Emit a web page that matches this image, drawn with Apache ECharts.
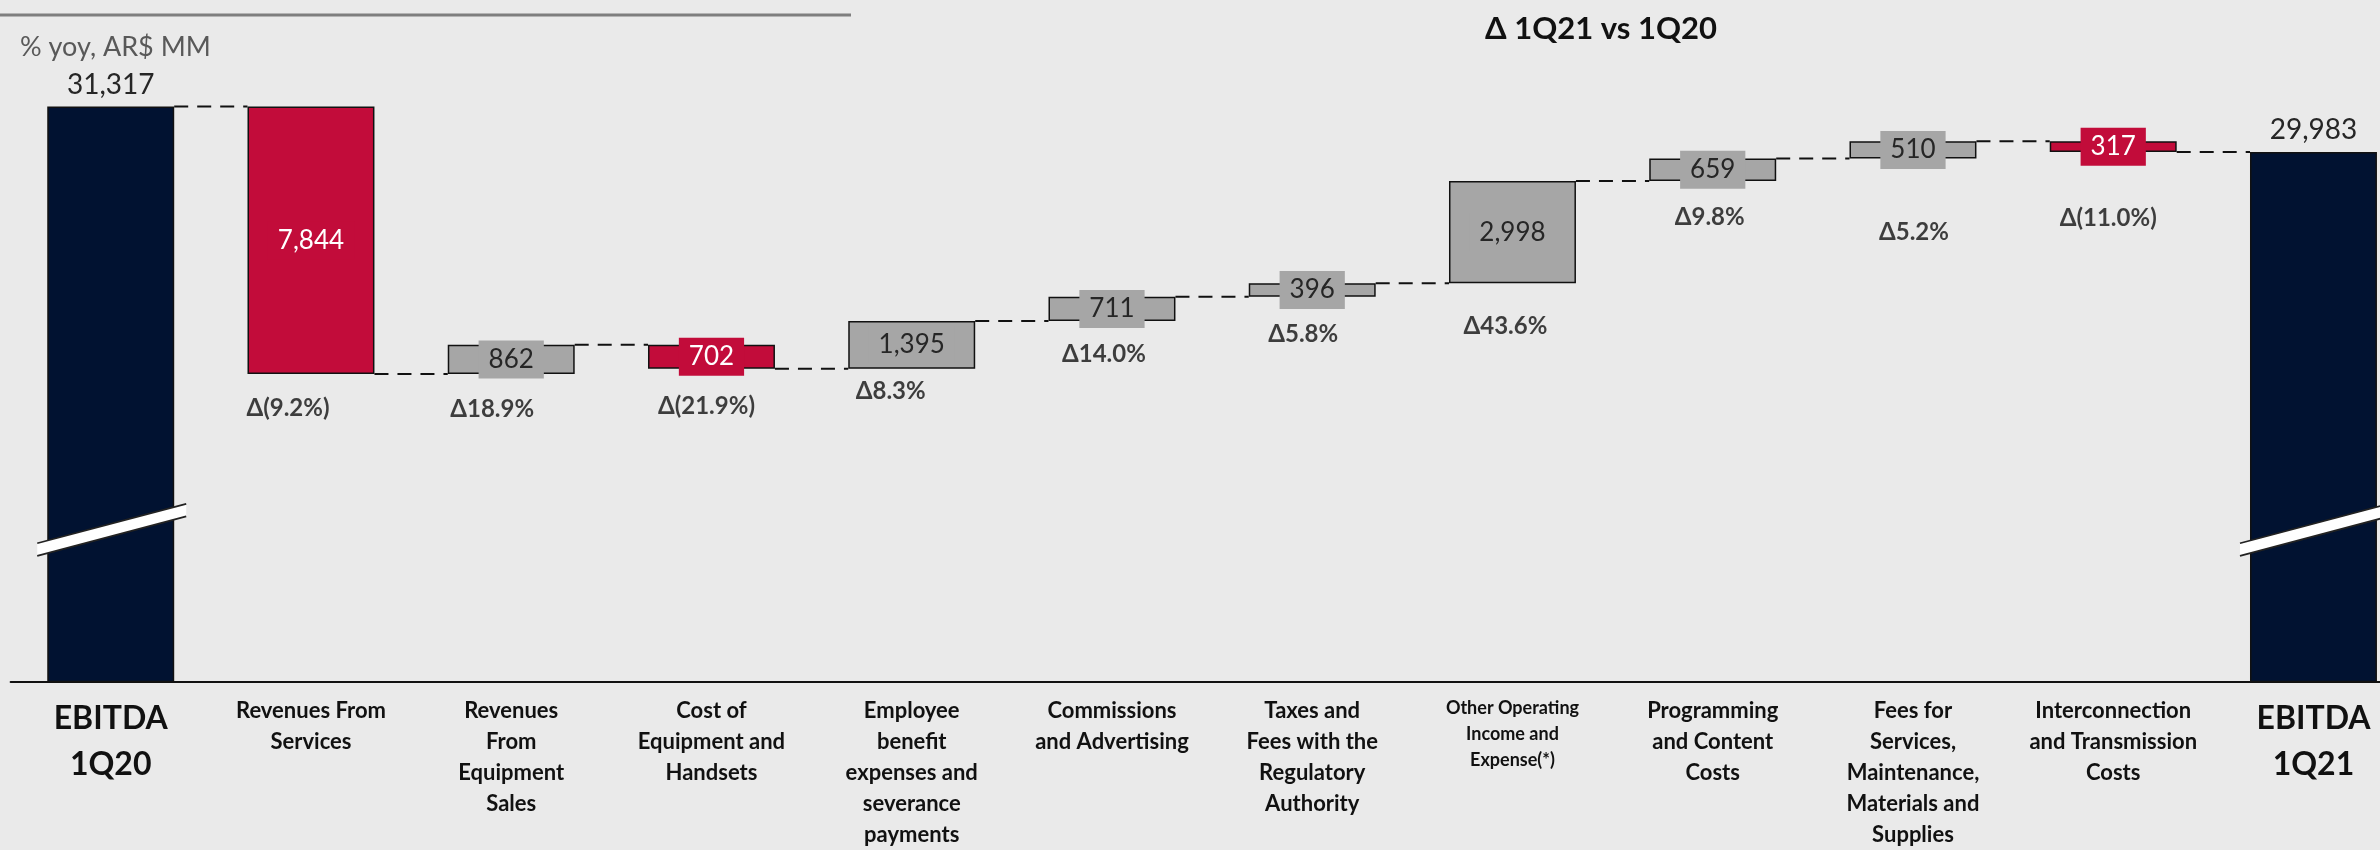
<!DOCTYPE html>
<html>
<head>
<meta charset="utf-8">
<script src="https://cdn.jsdelivr.net/npm/echarts@6/dist/echarts.min.js"></script>
<style>
  html, body { margin: 0; padding: 0; background: #eaeaea; overflow: hidden; }
  #chart { width: 2380px; height: 850px; }
</style>
</head>
<body>
<div id="chart"></div>
<script>
// ---------------- DATA ----------------
const categories = [
  'EBITDA\n1Q20',
  'Revenues From\nServices',
  'Revenues\nFrom\nEquipment\nSales',
  'Cost of\nEquipment and\nHandsets',
  'Employee\nbenefit\nexpenses and\nseverance\npayments',
  'Commissions\nand Advertising',
  'Taxes and\nFees with the\nRegulatory\nAuthority',
  'Other Operating\nIncome and\nExpense(*)',
  'Programming\nand Content\nCosts',
  'Fees for\nServices,\nMaintenance,\nMaterials and\nSupplies',
  'Interconnection\nand Transmission\nCosts',
  'EBITDA\n1Q21'
];
const startEbitda = 31317;
const endEbitda = 29983;
// signed impact on EBITDA of each line item (AR$ MM)
const changes = [-7844, 862, -702, 1395, 711, 396, 2998, 659, 510, -317];
const yoyLabels = ['Δ(9.2%)', 'Δ18.9%', 'Δ(21.9%)', 'Δ8.3%', 'Δ14.0%', 'Δ5.8%', 'Δ43.6%', 'Δ9.8%', 'Δ5.2%', 'Δ(11.0%)'];
const titleText = 'Δ 1Q21 vs 1Q20';
const unitText = '% yoy, AR$ MM';
// broken value axis
const axisMinValue = 14460;
const axisMaxValue = 33270;
const axisBreakValue = 18900;

// ---------------- LAYOUT / STYLE ----------------
const NAVY = '#011231', RED = '#c20c3a', GRAY = '#a6a6a6', INK = '#262626';
const FONT = 'Lato, "Open Sans", sans-serif';
const BAR_RATIO = 0.634;
// manual nudges [dx, dy] of the yoy labels, as placed in the original slide
const yoyNudge = [[-23, -2], [-19, -1], [-5, 2], [-21, -13], [-8, -3], [-9, 1], [-7, 7], [-3, 0], [1, 38], [-5, 30]];

const fmt = v => v.toLocaleString('en-US');
const n = categories.length;

// waterfall geometry derived from the data
const lows = [], levels = [startEbitda];
let cum = startEbitda;
changes.forEach(d => {
  const next = cum + d;
  lows.push(Math.min(cum, next));
  cum = next;
  levels.push(cum);
});

const baseData = [0].concat(lows).concat([0]);

const totalLabel = v => ({
  show: true, position: 'top', distance: 8, formatter: fmt(v),
  fontSize: 28, color: INK, fontFamily: FONT
});
const bodyData = [];
bodyData.push({ value: startEbitda, itemStyle: { color: NAVY }, label: totalLabel(startEbitda) });
changes.forEach(d => {
  const c = d < 0 ? RED : GRAY;
  bodyData.push({
    value: Math.abs(d),
    itemStyle: { color: c },
    label: {
      show: true, position: 'inside', formatter: fmt(Math.abs(d)),
      backgroundColor: c, color: d < 0 ? '#ffffff' : INK,
      padding: [4, 10], fontSize: 26, lineHeight: 30, fontFamily: FONT
    }
  });
});
bodyData.push({ value: endEbitda, itemStyle: { color: NAVY }, label: totalLabel(endEbitda) });

const yoyData = changes.map((d, k) => ({
  value: [k + 1, lows[k]],
  label: { offset: [yoyNudge[k][0], 36 + yoyNudge[k][1]], formatter: yoyLabels[k] }
}));

const connectorData = levels.map((lv, i) => [i, lv]);
const breakData = [[0, axisBreakValue], [n - 1, axisBreakValue]];

const chart = echarts.init(document.getElementById('chart'), null, { renderer: 'canvas' });

const option = {
  backgroundColor: '#eaeaea',
  animation: false,
  title: [
    { text: titleText, left: 1596, top: 8, textAlign: 'center',
      textStyle: { fontSize: 31, fontWeight: 'bold', color: '#111', fontFamily: FONT } },
    { text: unitText, left: 15, top: 29,
      textStyle: { fontSize: 27, fontWeight: 'normal', color: '#595959', fontFamily: FONT } }
  ],
  graphic: [
    { type: 'line', shape: { x1: 0, y1: 15, x2: 851, y2: 15 }, style: { stroke: '#7f7f7f', lineWidth: 3 } }
  ],
  grid: { left: 10.6, top: 40, width: 2403, height: 641.5, outerBoundsMode: 'none', containLabel: false },
  xAxis: {
    type: 'category',
    data: categories,
    axisTick: { show: false },
    axisLine: { show: true, lineStyle: { color: '#111', width: 2 } },
    axisLabel: {
      interval: 0, margin: 14, fontFamily: FONT,
      formatter: (v, i) => {
        const style = (i === 0 || i === n - 1) ? 'big' : (i === 7 ? 'small' : 'reg');
        return v.split('\n').map(s => '{' + style + '|' + s + '}').join('\n');
      },
      rich: {
        big: { fontSize: 32, fontWeight: 'bold', lineHeight: 46, color: '#111', fontFamily: FONT },
        reg: { fontSize: 22, fontWeight: 'bold', lineHeight: 31, color: '#111', fontFamily: FONT },
        small: { fontSize: 18, fontWeight: 'bold', lineHeight: 26, color: '#111', fontFamily: FONT }
      }
    }
  },
  yAxis: {
    type: 'value', min: axisMinValue, max: axisMaxValue, show: false,
    splitLine: { show: false }
  },
  series: [
    {
      name: 'connectors', type: 'custom', z: 1, silent: true,
      encode: { x: 0, y: 1 },
      data: connectorData,
      renderItem: (params, api) => {
        const i = api.value(0), lv = api.value(1);
        const p1 = api.coord([i, lv]);
        const p2 = api.coord([i + 1, lv]);
        const half = api.size([1, 0])[0] * BAR_RATIO / 2;
        return {
          type: 'line',
          shape: { x1: p1[0] + half, y1: p1[1], x2: p2[0] - half, y2: p1[1] },
          style: { stroke: '#111', lineWidth: 2, lineDash: [14, 9] }
        };
      }
    },
    {
      name: 'base', type: 'bar', stack: 'wf', silent: true, z: 2,
      barWidth: (BAR_RATIO * 100) + '%',
      itemStyle: { color: 'transparent' },
      data: baseData
    },
    {
      name: 'value', type: 'bar', stack: 'wf', z: 3,
      barWidth: (BAR_RATIO * 100) + '%',
      itemStyle: { borderColor: '#111', borderWidth: 1.5 },
      data: bodyData
    },
    {
      name: 'break', type: 'custom', z: 5, silent: true,
      encode: { x: 0, y: 1 },
      data: breakData,
      renderItem: (params, api) => {
        const c = api.coord([api.value(0), api.value(1)]);
        const bw = api.size([1, 0])[0] * BAR_RATIO;
        const x0 = c[0] - bw / 2 - 10, x1 = c[0] + bw / 2 + 12;
        const s = -0.265, h = 6.3;
        const yU = x => c[1] - h + s * (x - c[0]);
        const yL = x => c[1] + h + s * (x - c[0]);
        return {
          type: 'group',
          children: [
            { type: 'polygon', shape: { points: [[x0, yU(x0)], [x1, yU(x1)], [x1, yL(x1)], [x0, yL(x0)]] },
              style: { fill: '#ffffff' } },
            { type: 'line', shape: { x1: x0, y1: yU(x0), x2: x1, y2: yU(x1) }, style: { stroke: '#222', lineWidth: 1.8 } },
            { type: 'line', shape: { x1: x0, y1: yL(x0), x2: x1, y2: yL(x1) }, style: { stroke: '#222', lineWidth: 1.8 } }
          ]
        };
      }
    },
    {
      name: 'yoy', type: 'scatter', symbolSize: 0, z: 6, silent: true,
      label: { show: true, position: 'inside', fontSize: 24, fontWeight: 'bold', color: '#111', fontFamily: FONT },
      data: yoyData
    }
  ]
};
chart.setOption(option);
</script>
</body>
</html>
